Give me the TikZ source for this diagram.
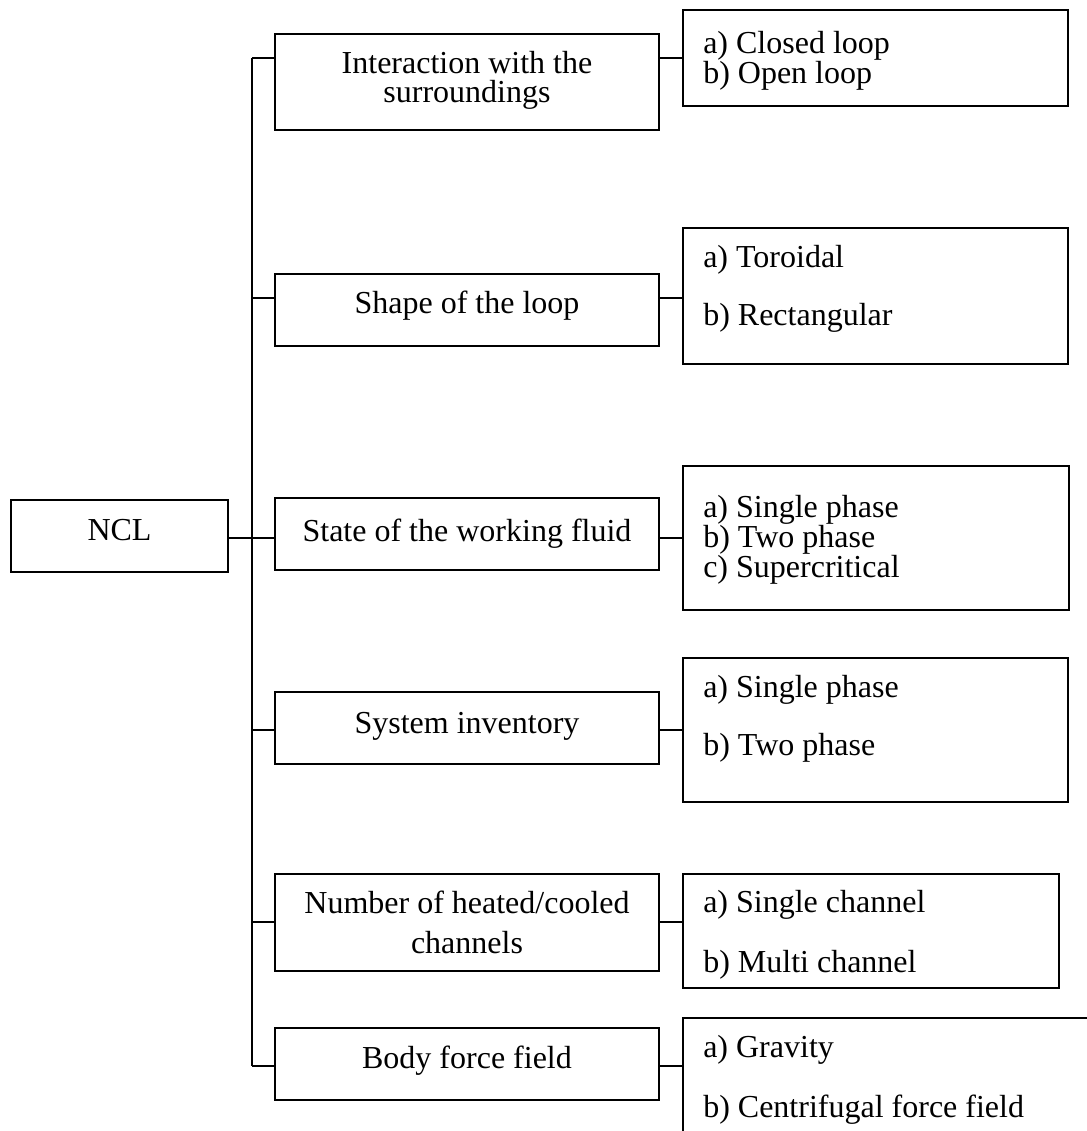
\documentclass[tikz,border=0pt]{standalone}
\usepackage{fontspec}
\setmainfont{Liberation Serif}
\usetikzlibrary{fit}
\begin{document}
\begin{tikzpicture}[x=0.75pt,y=-0.75pt,
  box/.style={draw, line width=1.3pt, inner sep=0pt},
  txt/.style={font=\fontsize{24}{28}\selectfont, inner sep=0pt},
  conn/.style={line width=1.3pt}]
\useasboundingbox (0,0) rectangle (1087,1131);
\clip (0,0) rectangle (1087,1131);
% root
\node[box, fit={(11,500) (228,572)}] (ncl) {};
\node[txt, anchor=base] (nclt) at (119.5,540) {NCL};
% middle boxes
\node[box, fit={(275,34) (659,130)}] (m1) {};
\node[box, fit={(275,274) (659,346)}] (m2) {};
\node[box, fit={(275,498) (659,570)}] (m3) {};
\node[box, fit={(275,692) (659,764)}] (m4) {};
\node[box, fit={(275,874) (659,971)}] (m5) {};
\node[box, fit={(275,1028) (659,1100)}] (m6) {};
\node[txt, anchor=base] (m1a) at (467,74) {Interaction with the};
\node[txt, anchor=base] (m1b) at (467,103) {surroundings};
\node[txt, anchor=base] (m2t) at (467,313) {Shape of the loop};
\node[txt, anchor=base] (m3t) at (467,541) {State of the working fluid};
\node[txt, anchor=base] (m4t) at (467,733) {System inventory};
\node[txt, anchor=base] (m5a) at (467,913) {Number of heated/cooled};
\node[txt, anchor=base] (m5b) at (467,953) {channels};
\node[txt, anchor=base] (m6t) at (467,1068) {Body force field};
% right boxes
\node[box, fit={(683,10) (1068,106)}] (r1) {};
\node[box, fit={(683,228) (1068,364)}] (r2) {};
\node[box, fit={(683,466) (1069,610)}] (r3) {};
\node[box, fit={(683,658) (1068,802)}] (r4) {};
\node[box, fit={(683,874) (1059,988)}] (r5) {};
\node[box, fit={(683,1018) (1110,1160)}] (r6) {};
\node[txt, anchor=west] (r1a) at (703,46) {a) Closed loop};
\node[txt, anchor=west] (r1b) at (703,76) {b) Open loop};
\node[txt, anchor=west] (r2a) at (703,260) {a) Toroidal};
\node[txt, anchor=west] (r2b) at (703,318) {b) Rectangular};
\node[txt, anchor=west] (r3a) at (703,509.5) {a) Single phase};
\node[txt, anchor=west] (r3b) at (703,539.5) {b) Two phase};
\node[txt, anchor=west] (r3c) at (703,570) {c) Supercritical};
\node[txt, anchor=west] (r4a) at (703,689.5) {a) Single phase};
\node[txt, anchor=west] (r4b) at (703,748) {b) Two phase};
\node[txt, anchor=west] (r5a) at (703,905) {a) Single channel};
\node[txt, anchor=west] (r5b) at (703,965) {b) Multi channel};
\node[txt, anchor=west] (r6a) at (703,1050) {a) Gravity};
\node[txt, anchor=west] (r6b) at (703,1110) {b) Centrifugal force field};
% junctions on trunk
\coordinate (j1) at (252,58);
\coordinate (j2) at (252,298);
\coordinate (j3) at (252,538);
\coordinate (j4) at (252,730);
\coordinate (j5) at (252,922);
\coordinate (j6) at (252,1066);
% connectors
\draw[conn] (j1) -- (j6);
\draw[conn] (ncl.east |- j3) -- (j3);
\foreach \i in {1,...,6}{
  \draw[conn] (j\i) -- (m\i.west |- j\i);
  \draw[conn] (m\i.east |- j\i) -- (r\i.west |- j\i);
}
\end{tikzpicture}
\end{document}
